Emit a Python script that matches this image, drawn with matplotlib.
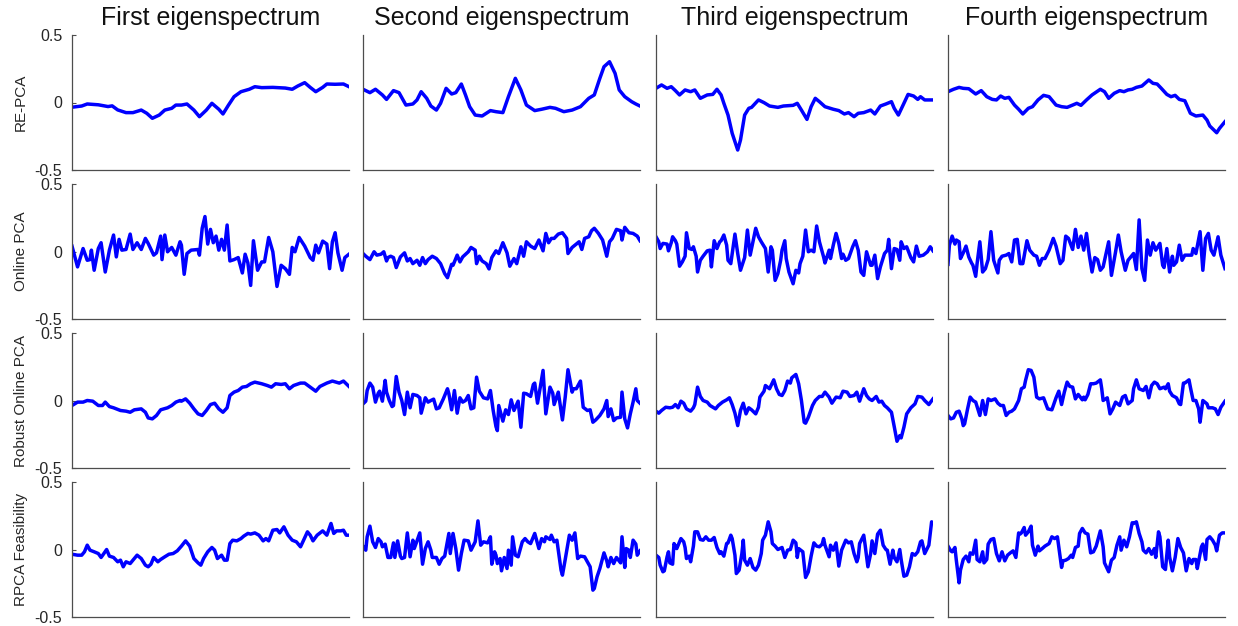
import matplotlib
matplotlib.use("Agg")
import matplotlib.pyplot as plt

plt.rcParams['font.family'] = ['Liberation Sans', 'DejaVu Sans']

col_titles = ['First eigenspectrum', 'Second eigenspectrum', 'Third eigenspectrum', 'Fourth eigenspectrum']
row_labels = ['RE-PCA', 'Online PCA', 'Robust Online PCA', 'RPCA Feasibility']
y_ticks = [-0.5, 0, 0.5]
y_tick_labels = ['-0.5', '0', '0.5']

# ---- RE-PCA ----
t_re1 = [0, 7, 11, 19, 26, 29, 33, 39, 44, 50, 54, 58, 63, 67, 72, 75, 79, 83, 88, 92, 97, 101, 106, 109, 113, 117, 122, 128, 132, 137, 145, 154, 159, 163, 168, 172, 176, 181, 184, 190, 196, 200]
v_re1 = [-0.035, -0.026, -0.011, -0.017, -0.030, -0.025, -0.055, -0.075, -0.075, -0.056, -0.080, -0.117, -0.093, -0.056, -0.043, -0.019, -0.019, -0.011, -0.056, -0.105, -0.056, -0.006, -0.050, -0.085, -0.019, 0.043, 0.080, 0.098, 0.117, 0.110, 0.112, 0.107, 0.098, 0.122, 0.147, 0.112, 0.080, 0.112, 0.137, 0.135, 0.137, 0.117]

t_re2 = [0, 5, 9, 14, 17, 22, 26, 31, 36, 39, 42, 46, 49, 53, 56, 60, 64, 67, 71, 74, 77, 81, 86, 92, 96, 101, 105, 110, 114, 118, 124, 129, 135, 139, 145, 151, 157, 163, 167, 171, 174, 178, 182, 185, 189, 194, 197, 200]
v_re2 = [0.098, 0.073, 0.098, 0.056, 0.023, 0.088, 0.073, -0.019, -0.011, 0.019, 0.080, 0.031, -0.026, -0.056, -0.006, 0.105, 0.063, 0.073, 0.137, 0.056, -0.031, -0.093, -0.100, -0.060, -0.068, -0.075, 0.043, 0.179, 0.093, -0.019, -0.060, -0.050, -0.036, -0.043, -0.068, -0.056, -0.031, 0.031, 0.056, 0.179, 0.265, 0.302, 0.216, 0.093, 0.043, 0.006, -0.011, -0.026]

t_re3 = [0, 4, 8, 11, 14, 17, 21, 25, 28, 32, 37, 41, 44, 47, 49, 52, 55, 59, 61, 64, 67, 69, 74, 78, 82, 88, 92, 99, 102, 105, 109, 112, 115, 118, 122, 128, 132, 136, 139, 143, 146, 150, 155, 158, 162, 166, 170, 172, 175, 179, 182, 186, 189, 191, 194, 200]
v_re3 = [0.105, 0.130, 0.105, 0.117, 0.088, 0.056, 0.093, 0.080, 0.093, 0.031, 0.056, 0.060, 0.098, 0.056, -0.006, -0.093, -0.228, -0.352, -0.278, -0.093, -0.043, -0.036, 0.019, -0.001, -0.026, -0.036, -0.026, -0.021, -0.006, -0.056, -0.125, -0.031, 0.031, 0.006, -0.031, -0.050, -0.060, -0.085, -0.075, -0.105, -0.080, -0.075, -0.056, -0.085, -0.026, -0.011, 0.006, -0.043, -0.093, -0.006, 0.060, 0.048, 0.023, 0.043, 0.019, 0.019]

t_re4 = [0, 4, 8, 11, 15, 20, 24, 28, 32, 35, 38, 41, 44, 48, 51, 54, 58, 61, 65, 69, 73, 78, 82, 86, 90, 93, 96, 100, 104, 110, 113, 116, 120, 124, 127, 130, 133, 136, 140, 145, 148, 151, 154, 158, 161, 164, 167, 171, 175, 179, 184, 187, 189, 194, 196, 200]
v_re4 = [0.080, 0.098, 0.112, 0.105, 0.102, 0.063, 0.088, 0.043, 0.023, 0.019, 0.048, 0.031, 0.038, -0.019, -0.050, -0.085, -0.043, -0.031, 0.019, 0.053, 0.043, -0.019, -0.031, -0.036, -0.019, -0.006, -0.021, 0.019, 0.056, 0.098, 0.080, 0.031, 0.068, 0.088, 0.080, 0.093, 0.098, 0.112, 0.122, 0.167, 0.142, 0.137, 0.105, 0.060, 0.043, 0.053, 0.023, 0.013, -0.080, -0.100, -0.093, -0.130, -0.174, -0.224, -0.192, -0.142]

# ---- Online PCA ----
t_on1 = [0, 4, 8, 11, 13, 14, 16, 19, 21, 24, 27, 30, 32, 34, 36, 39, 42, 44, 47, 50, 53, 55, 59, 61, 64, 65, 67, 69, 72, 75, 78, 79, 81, 83, 86, 91, 92, 94, 96, 98, 100, 102, 104, 106, 108, 110, 112, 114, 117, 120, 123, 125, 127, 129, 131, 134, 137, 139, 142, 145, 148, 151, 154, 157, 159, 161, 164, 168, 172, 174, 176, 178, 181, 184, 186, 188, 190, 192, 195, 197, 200]
v_on1 = [0.040, -0.114, 0.022, -0.065, -0.060, 0.010, -0.139, 0.022, 0.065, -0.152, 0.010, 0.122, -0.040, 0.090, 0.010, 0.015, 0.129, 0.015, 0.065, 0.015, 0.097, 0.060, -0.027, -0.010, 0.114, -0.060, 0.122, -0.002, 0.030, -0.027, 0.072, 0.047, -0.169, -0.015, 0.010, 0.015, -0.027, 0.172, 0.259, 0.055, 0.164, 0.065, 0.114, 0.010, 0.090, 0.010, 0.196, -0.070, -0.060, -0.045, -0.159, -0.020, -0.085, -0.251, 0.080, -0.139, -0.077, -0.077, 0.104, -0.002, -0.259, -0.102, -0.127, -0.169, 0.030, -0.002, 0.104, 0.040, -0.045, -0.065, 0.047, -0.010, 0.077, 0.055, -0.127, 0.072, 0.139, -0.010, -0.139, -0.045, -0.020]

t_on2 = [0, 2, 5, 8, 10, 13, 15, 17, 18, 20, 22, 24, 27, 30, 32, 34, 36, 39, 41, 43, 45, 47, 50, 53, 56, 59, 61, 64, 65, 68, 70, 72, 76, 78, 81, 82, 84, 86, 89, 91, 93, 96, 98, 101, 104, 106, 109, 111, 114, 116, 118, 121, 124, 127, 130, 132, 134, 136, 138, 141, 144, 147, 148, 151, 154, 156, 158, 160, 163, 165, 167, 170, 173, 176, 178, 180, 183, 186, 187, 189, 192, 195, 198, 200]
v_on2 = [-0.015, -0.035, -0.060, -0.002, -0.027, -0.020, -0.002, -0.070, -0.045, -0.035, -0.045, -0.119, -0.040, -0.010, -0.070, -0.052, -0.090, -0.065, -0.102, -0.045, -0.090, -0.060, -0.035, -0.052, -0.090, -0.164, -0.194, -0.095, -0.102, -0.027, -0.077, -0.040, -0.002, 0.030, 0.010, -0.090, -0.035, -0.070, -0.090, -0.129, -0.045, 0.005, -0.015, 0.065, -0.010, -0.109, -0.052, -0.090, 0.035, -0.035, 0.072, 0.040, 0.022, 0.085, 0.005, 0.134, 0.065, 0.097, 0.097, 0.129, 0.139, 0.097, -0.015, 0.030, 0.055, 0.072, 0.015, 0.097, 0.109, 0.154, 0.172, 0.134, 0.085, -0.035, 0.072, 0.097, 0.164, 0.154, 0.085, 0.179, 0.139, 0.134, 0.114, 0.080]

t_on3 = [0, 2, 3, 5, 8, 9, 11, 12, 14, 15, 17, 19, 21, 22, 24, 26, 27, 29, 30, 32, 34, 37, 39, 40, 42, 44, 46, 47, 49, 51, 52, 54, 57, 59, 61, 64, 66, 68, 70, 72, 74, 76, 79, 81, 83, 84, 86, 88, 90, 91, 93, 94, 96, 99, 101, 103, 104, 106, 108, 110, 112, 114, 116, 118, 121, 122, 125, 126, 128, 130, 132, 134, 135, 137, 139, 142, 144, 146, 148, 150, 152, 155, 156, 158, 160, 162, 165, 167, 168, 170, 172, 174, 176, 177, 179, 181, 184, 186, 188, 190, 193, 196, 198, 200]
v_on3 = [0.109, 0.072, 0.022, 0.060, 0.055, 0.005, 0.065, 0.109, 0.080, 0.055, -0.109, -0.077, -0.035, 0.139, 0.022, 0.015, 0.035, -0.035, -0.152, -0.065, -0.035, 0.005, 0.010, -0.114, 0.080, 0.022, 0.072, 0.080, 0.122, 0.047, -0.065, -0.090, 0.129, -0.015, -0.139, -0.045, 0.159, -0.027, 0.072, 0.172, 0.109, 0.072, 0.022, -0.152, 0.035, 0.010, -0.214, -0.164, -0.065, 0.010, 0.080, -0.052, -0.152, -0.239, -0.139, -0.159, -0.090, -0.035, 0.159, -0.002, 0.010, -0.002, 0.189, 0.072, -0.040, -0.085, 0.010, -0.052, 0.047, 0.134, 0.060, -0.052, -0.020, -0.065, -0.052, 0.035, 0.080, 0.010, -0.152, -0.177, -0.002, -0.102, -0.102, -0.027, -0.201, -0.114, -0.015, 0.010, 0.090, -0.127, 0.022, 0.015, -0.065, 0.072, 0.022, 0.035, -0.045, -0.077, 0.040, -0.035, -0.027, -0.002, 0.035, 0.005]

t_on4 = [0, 1, 3, 5, 6, 8, 9, 11, 13, 15, 17, 18, 20, 21, 23, 25, 27, 29, 31, 33, 36, 37, 39, 42, 44, 46, 48, 50, 52, 54, 57, 59, 62, 64, 66, 68, 70, 73, 76, 78, 81, 83, 85, 87, 90, 92, 94, 96, 98, 100, 102, 104, 106, 108, 110, 112, 116, 118, 121, 123, 125, 128, 130, 132, 134, 136, 138, 140, 142, 144, 146, 148, 150, 153, 155, 156, 158, 160, 162, 163, 165, 167, 169, 171, 174, 176, 177, 179, 182, 184, 186, 188, 190, 192, 195, 197, 200]
v_on4 = [-0.095, 0.047, 0.114, 0.055, 0.085, 0.072, -0.052, -0.010, 0.040, -0.040, -0.085, -0.102, -0.184, -0.090, 0.072, -0.152, -0.127, -0.060, 0.147, -0.065, -0.159, -0.065, -0.035, -0.027, -0.015, -0.077, 0.085, 0.090, -0.090, -0.090, 0.080, 0.010, -0.027, -0.035, -0.102, -0.052, -0.052, 0.010, 0.097, 0.040, -0.090, -0.065, 0.114, 0.097, 0.015, 0.164, 0.030, 0.114, 0.010, 0.134, -0.027, -0.152, -0.045, -0.060, -0.139, -0.114, 0.072, -0.177, -0.002, 0.122, -0.002, -0.139, -0.065, -0.040, -0.015, -0.134, 0.234, -0.127, -0.214, 0.085, -0.027, 0.065, 0.010, 0.060, -0.102, -0.119, 0.022, -0.152, -0.035, -0.102, -0.077, 0.047, -0.065, -0.027, -0.027, -0.027, 0.022, -0.015, 0.147, -0.139, 0.097, 0.134, 0.010, -0.027, 0.109, -0.027, -0.127]

# ---- Robust Online PCA ----
t_ro1 = [0, 4, 8, 11, 15, 19, 22, 24, 27, 30, 35, 39, 42, 45, 50, 53, 55, 58, 61, 64, 69, 72, 75, 78, 79, 82, 85, 88, 91, 94, 97, 100, 103, 106, 109, 112, 114, 117, 120, 123, 126, 129, 132, 137, 141, 144, 147, 151, 154, 157, 160, 165, 168, 172, 176, 179, 184, 188, 193, 196, 200]
v_ro1 = [-0.037, -0.012, -0.012, 0.000, -0.005, -0.037, -0.037, -0.012, -0.045, -0.054, -0.074, -0.079, -0.087, -0.069, -0.062, -0.087, -0.129, -0.136, -0.111, -0.069, -0.054, -0.037, -0.012, 0.000, -0.005, 0.012, -0.020, -0.062, -0.099, -0.111, -0.074, -0.030, -0.020, -0.062, -0.087, -0.054, 0.037, 0.062, 0.074, 0.099, 0.104, 0.124, 0.136, 0.124, 0.111, 0.099, 0.124, 0.119, 0.124, 0.087, 0.111, 0.129, 0.129, 0.099, 0.069, 0.104, 0.129, 0.144, 0.129, 0.144, 0.104]

t_ro2 = [0, 2, 3, 5, 7, 9, 11, 12, 14, 16, 17, 19, 21, 22, 24, 26, 28, 30, 32, 34, 36, 39, 41, 42, 45, 47, 49, 51, 53, 55, 58, 61, 62, 64, 66, 68, 70, 72, 74, 76, 78, 80, 82, 84, 87, 90, 92, 94, 96, 97, 98, 101, 103, 105, 107, 109, 112, 114, 116, 118, 121, 123, 124, 126, 128, 130, 132, 135, 137, 138, 141, 144, 146, 148, 151, 152, 154, 157, 159, 162, 164, 166, 168, 171, 174, 176, 177, 179, 181, 183, 186, 187, 189, 191, 193, 195, 197, 198, 200]
v_ro2 = [-0.025, -0.005, 0.074, 0.129, 0.099, -0.012, 0.054, 0.069, -0.005, 0.149, 0.062, 0.000, -0.045, -0.037, 0.178, 0.062, 0.000, -0.104, 0.062, -0.054, 0.045, 0.037, 0.020, -0.094, 0.020, -0.012, 0.000, 0.010, -0.062, -0.054, 0.012, 0.087, 0.050, -0.069, 0.074, -0.094, 0.020, -0.012, 0.000, 0.037, -0.062, -0.054, 0.173, 0.069, 0.020, 0.012, 0.074, -0.074, -0.193, -0.223, -0.037, -0.153, -0.069, -0.104, 0.005, -0.074, -0.005, -0.198, 0.054, 0.050, 0.030, 0.119, 0.129, -0.020, 0.099, 0.223, -0.099, 0.099, 0.054, -0.030, 0.062, -0.144, 0.025, 0.228, 0.062, 0.087, 0.087, 0.144, -0.050, -0.074, -0.069, -0.161, -0.144, -0.111, -0.062, 0.000, -0.119, -0.062, -0.149, -0.129, -0.124, 0.062, -0.136, -0.203, -0.099, -0.012, 0.087, 0.000, -0.020]

t_ro3 = [0, 2, 4, 7, 10, 12, 14, 16, 18, 20, 22, 25, 27, 28, 30, 32, 34, 37, 39, 43, 45, 48, 51, 53, 55, 57, 59, 61, 63, 65, 67, 69, 72, 74, 75, 78, 79, 82, 85, 87, 89, 91, 93, 95, 97, 98, 101, 103, 105, 107, 108, 110, 113, 115, 118, 120, 122, 125, 127, 130, 133, 135, 138, 140, 143, 145, 147, 150, 152, 154, 156, 159, 161, 163, 165, 167, 170, 172, 174, 176, 177, 179, 181, 184, 187, 189, 192, 194, 197, 200]
v_ro3 = [-0.079, -0.094, -0.074, -0.050, -0.054, -0.050, -0.030, -0.054, -0.005, -0.020, -0.062, -0.079, -0.054, -0.030, 0.099, 0.030, 0.000, -0.012, -0.037, -0.062, -0.037, -0.012, 0.005, 0.020, -0.030, -0.094, -0.186, -0.074, -0.020, -0.099, -0.054, -0.069, -0.099, -0.050, 0.025, 0.069, 0.111, 0.087, 0.153, 0.087, 0.045, 0.037, 0.074, 0.144, 0.129, 0.168, 0.193, 0.124, 0.000, -0.161, -0.168, -0.124, -0.037, 0.000, 0.030, 0.030, 0.062, 0.025, -0.020, 0.025, 0.020, 0.069, 0.062, 0.030, 0.037, 0.062, -0.005, 0.087, 0.037, 0.012, 0.000, 0.030, -0.012, -0.005, -0.037, -0.054, -0.087, -0.193, -0.302, -0.260, -0.277, -0.198, -0.099, -0.054, -0.025, 0.030, 0.025, 0.000, -0.030, 0.012]

t_ro4 = [0, 2, 4, 6, 8, 10, 11, 12, 14, 16, 18, 20, 23, 25, 27, 29, 31, 34, 36, 38, 40, 42, 44, 46, 48, 51, 53, 55, 56, 58, 60, 62, 64, 66, 69, 72, 75, 78, 80, 82, 84, 86, 88, 90, 92, 94, 97, 98, 99, 101, 103, 105, 107, 110, 111, 112, 115, 117, 119, 121, 124, 126, 128, 130, 133, 134, 136, 138, 141, 143, 145, 147, 149, 151, 153, 156, 157, 159, 160, 162, 165, 167, 168, 170, 171, 174, 175, 177, 179, 181, 182, 184, 187, 188, 191, 193, 195, 197, 200]
v_ro4 = [-0.111, -0.136, -0.129, -0.087, -0.079, -0.136, -0.186, -0.173, -0.069, 0.025, 0.000, -0.012, -0.111, 0.000, -0.104, 0.012, 0.000, 0.012, -0.020, -0.037, -0.037, -0.111, -0.087, -0.079, -0.062, 0.000, 0.087, 0.099, 0.149, 0.228, 0.223, 0.173, 0.025, 0.012, 0.020, -0.062, -0.069, 0.020, 0.069, -0.030, 0.062, 0.136, 0.104, 0.099, 0.012, 0.045, 0.005, 0.025, 0.005, 0.045, 0.124, 0.124, 0.129, 0.153, 0.087, 0.000, 0.020, -0.099, -0.062, -0.012, -0.037, 0.025, 0.037, -0.025, 0.000, 0.087, 0.153, 0.087, 0.074, 0.104, 0.020, 0.111, 0.136, 0.124, 0.087, 0.099, 0.087, 0.124, 0.069, 0.037, 0.020, -0.025, -0.030, 0.129, 0.129, 0.153, 0.099, 0.000, 0.000, -0.062, -0.161, 0.000, -0.025, -0.054, -0.054, -0.062, -0.104, -0.050, -0.005]

# ---- RPCA Feasibility ----
t_rf1 = [0, 4, 7, 9, 11, 13, 16, 19, 21, 23, 25, 27, 30, 33, 35, 37, 39, 42, 44, 47, 50, 53, 55, 57, 59, 62, 64, 67, 70, 73, 76, 79, 82, 85, 88, 91, 93, 95, 98, 101, 103, 105, 108, 110, 112, 114, 116, 119, 122, 124, 127, 129, 132, 135, 138, 140, 142, 145, 148, 150, 153, 156, 159, 162, 165, 167, 170, 172, 174, 177, 181, 184, 187, 189, 191, 194, 196, 198, 200]
v_rf1 = [-0.035, -0.042, -0.042, -0.017, 0.032, -0.005, -0.017, -0.030, -0.059, -0.030, 0.000, -0.049, -0.059, -0.091, -0.079, -0.128, -0.091, -0.104, -0.079, -0.042, -0.067, -0.116, -0.128, -0.109, -0.059, -0.091, -0.074, -0.054, -0.035, -0.030, -0.010, 0.025, 0.064, 0.025, -0.067, -0.099, -0.116, -0.067, -0.017, 0.015, -0.005, -0.067, -0.042, -0.079, -0.079, 0.044, 0.069, 0.064, 0.081, 0.099, 0.119, 0.114, 0.123, 0.106, 0.064, 0.081, 0.064, 0.143, 0.148, 0.123, 0.168, 0.106, 0.069, 0.057, 0.020, 0.064, 0.131, 0.106, 0.064, 0.106, 0.138, 0.106, 0.193, 0.119, 0.138, 0.138, 0.143, 0.106, 0.106]

t_rf2 = [0, 2, 3, 5, 7, 9, 11, 13, 14, 16, 18, 20, 22, 23, 25, 27, 28, 30, 32, 34, 36, 37, 39, 41, 43, 45, 47, 49, 50, 53, 55, 57, 59, 62, 63, 65, 67, 69, 71, 73, 76, 78, 81, 83, 85, 87, 90, 92, 93, 95, 96, 97, 99, 100, 102, 104, 105, 107, 108, 110, 112, 115, 117, 119, 121, 124, 127, 129, 131, 132, 135, 136, 138, 140, 141, 143, 144, 146, 149, 151, 153, 155, 157, 160, 162, 164, 166, 167, 169, 171, 174, 176, 177, 179, 181, 183, 186, 187, 189, 190, 192, 193, 195, 197, 198, 200]
v_rf2 = [0.025, -0.005, 0.094, 0.173, 0.057, 0.015, 0.081, 0.057, 0.020, 0.040, -0.059, -0.059, 0.049, -0.059, 0.064, -0.049, -0.067, -0.059, 0.123, -0.054, 0.069, 0.007, 0.064, 0.123, -0.109, 0.007, 0.057, -0.005, -0.059, -0.059, -0.109, -0.067, -0.049, 0.119, -0.030, 0.119, 0.007, -0.153, -0.030, 0.069, 0.064, -0.005, 0.057, 0.212, 0.032, 0.057, 0.049, 0.094, -0.109, -0.017, -0.042, -0.104, -0.067, -0.158, -0.059, -0.141, -0.005, -0.116, 0.094, -0.042, -0.054, 0.057, 0.081, 0.057, 0.044, 0.119, 0.007, 0.081, 0.057, 0.094, 0.074, 0.106, 0.057, 0.069, -0.005, -0.153, -0.190, -0.074, 0.106, 0.069, 0.123, -0.067, -0.049, -0.054, -0.091, -0.128, -0.301, -0.289, -0.202, -0.141, -0.025, -0.084, -0.128, -0.059, -0.104, -0.059, -0.099, 0.094, -0.133, 0.007, -0.005, -0.059, 0.069, 0.040, -0.042, -0.010]

t_rf3 = [0, 2, 3, 5, 6, 8, 9, 10, 12, 13, 15, 16, 18, 20, 21, 22, 24, 25, 27, 28, 30, 32, 34, 36, 38, 40, 42, 44, 46, 47, 49, 51, 52, 54, 55, 57, 58, 60, 62, 63, 64, 66, 68, 70, 72, 74, 76, 77, 79, 81, 83, 84, 86, 88, 91, 93, 95, 97, 99, 101, 102, 103, 106, 108, 110, 112, 114, 116, 118, 120, 121, 122, 125, 126, 128, 130, 132, 134, 137, 139, 141, 143, 145, 146, 147, 150, 151, 153, 155, 156, 158, 160, 162, 164, 166, 167, 169, 171, 172, 174, 176, 177, 179, 181, 183, 185, 187, 189, 191, 192, 194, 197, 199, 200]
v_rf3 = [-0.042, -0.059, -0.116, -0.165, -0.158, -0.054, -0.017, -0.099, -0.109, 0.044, 0.007, 0.032, 0.081, 0.057, 0.015, -0.067, -0.049, -0.091, 0.025, 0.131, 0.131, 0.074, 0.069, 0.094, 0.069, 0.069, 0.089, 0.015, -0.030, -0.017, -0.049, 0.044, 0.049, 0.106, 0.081, -0.042, -0.178, -0.153, -0.030, 0.069, -0.079, -0.116, -0.067, -0.133, -0.153, -0.116, -0.030, 0.069, 0.106, 0.205, 0.131, 0.044, 0.025, 0.000, 0.015, -0.059, -0.005, 0.000, 0.069, 0.049, -0.059, 0.007, -0.017, -0.207, -0.165, -0.049, 0.049, 0.025, 0.020, 0.040, 0.081, 0.032, -0.054, 0.032, -0.005, 0.049, -0.123, -0.005, 0.069, 0.049, 0.057, -0.030, -0.091, -0.059, 0.044, 0.106, 0.032, -0.128, -0.030, 0.064, -0.030, 0.114, 0.143, 0.032, 0.000, -0.005, -0.109, -0.005, -0.059, -0.091, 0.000, -0.074, -0.198, -0.190, -0.128, -0.030, -0.042, -0.017, 0.057, 0.064, -0.030, 0.032, 0.205, 0.198]

t_rf4 = [0, 2, 3, 5, 6, 8, 9, 11, 13, 15, 16, 18, 20, 21, 23, 25, 26, 28, 29, 31, 33, 35, 37, 39, 41, 43, 45, 47, 49, 51, 52, 53, 55, 56, 58, 60, 61, 63, 65, 66, 68, 70, 73, 75, 77, 79, 82, 83, 85, 87, 89, 90, 92, 94, 95, 97, 99, 101, 103, 105, 107, 110, 112, 113, 116, 118, 120, 122, 124, 125, 127, 129, 131, 133, 134, 136, 138, 140, 141, 143, 145, 147, 149, 150, 152, 153, 155, 157, 159, 160, 162, 164, 166, 168, 170, 172, 174, 176, 177, 179, 180, 183, 184, 186, 187, 189, 191, 193, 194, 196, 198, 200]
v_rf4 = [0.025, -0.010, -0.017, 0.015, -0.079, -0.247, -0.153, -0.074, -0.049, -0.091, -0.025, -0.035, 0.069, -0.074, -0.091, -0.017, -0.099, -0.074, 0.040, 0.074, 0.081, -0.030, -0.084, -0.017, -0.084, -0.042, -0.025, -0.010, -0.059, 0.123, 0.114, 0.123, 0.163, 0.106, 0.131, 0.173, 0.032, -0.042, 0.025, -0.010, 0.007, 0.025, 0.044, 0.094, 0.081, 0.094, -0.133, -0.084, -0.079, -0.067, -0.042, -0.059, 0.015, 0.025, 0.119, 0.156, 0.123, 0.114, -0.025, -0.017, 0.025, 0.138, 0.020, -0.099, -0.165, -0.079, -0.059, 0.032, 0.094, -0.005, 0.069, 0.020, 0.094, 0.198, 0.193, 0.205, 0.119, 0.057, -0.005, -0.025, 0.007, -0.035, 0.007, -0.059, 0.131, 0.094, -0.128, -0.148, 0.069, -0.054, -0.158, -0.059, 0.081, 0.015, -0.025, -0.158, -0.067, -0.104, -0.074, -0.074, -0.141, 0.020, 0.040, -0.074, 0.074, 0.094, 0.069, 0.032, -0.010, 0.106, 0.123, 0.123]

series = [
    [(t_re1, v_re1), (t_re2, v_re2), (t_re3, v_re3), (t_re4, v_re4)],
    [(t_on1, v_on1), (t_on2, v_on2), (t_on3, v_on3), (t_on4, v_on4)],
    [(t_ro1, v_ro1), (t_ro2, v_ro2), (t_ro3, v_ro3), (t_ro4, v_ro4)],
    [(t_rf1, v_rf1), (t_rf2, v_rf2), (t_rf3, v_rf3), (t_rf4, v_rf4)],
]

W, H = 1238, 626
fig = plt.figure(figsize=(W / 100, H / 100), dpi=100)
fig.patch.set_facecolor('white')

col_left = [72, 363, 656, 948]
row_top = [35, 184, 333, 482]
ax_w, ax_h = 277, 135
axis_col = '#4d4d4d'

for r in range(4):
    for c in range(4):
        ax = fig.add_axes([col_left[c] / W, 1 - (row_top[r] + ax_h) / H, ax_w / W, ax_h / H])
        t, v = series[r][c]
        ax.plot(t, v, color='#0000ff', lw=2.5, solid_joinstyle='round')
        ax.set_xlim(0, 200)
        ax.set_ylim(-0.5, 0.5)
        ax.set_xticks([])
        for side in ['top', 'right']:
            ax.spines[side].set_visible(False)
        for side in ['left', 'bottom']:
            ax.spines[side].set_color(axis_col)
            ax.spines[side].set_linewidth(0.9)
        if c == 0:
            ax.set_yticks(y_ticks)
            ax.set_yticklabels(y_tick_labels)
            ax.tick_params(axis='y', direction='in', length=3, width=0.8, color=axis_col,
                           labelsize=11.5, labelcolor='#262626', pad=7)
            ax.set_ylabel(row_labels[r], fontsize=11, color='#262626', labelpad=5)
        else:
            ax.set_yticks([])
        if r == 0:
            ax.set_title(col_titles[c], fontsize=18, color='#111111', pad=7)

fig.savefig('out.png', dpi=100, facecolor='white')
